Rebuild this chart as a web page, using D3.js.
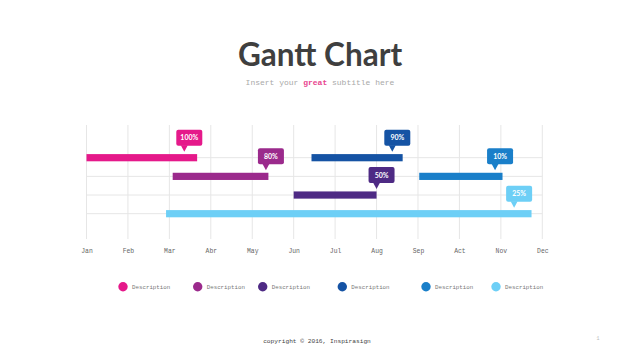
<!DOCTYPE html>
<html><head><meta charset="utf-8">
<script src="https://cdn.jsdelivr.net/npm/d3@7"></script>
<style>body{margin:0;background:#fff}svg{display:block}</style>
</head><body>
<svg id="c" width="640" height="360"></svg>
<script>
const months = ["Jan","Feb","Mar","Abr","May","Jun","Jul","Aug","Sep","Act","Nov","Dec"];
const taskNames = ["Description","Description","Description","Description","Description","Description"];
const taskStart = [0, 2.08, 5.0, 5.43, 8.03, 1.92];
const taskEnd = [2.67, 4.39, 7.0, 7.63, 10.04, 10.74];
const taskRow = [0, 1, 2, 0, 1, 3];
const taskProgress = ["100%","80%","50%","90%","10%","25%"];
const labelAt = [2.36, 4.33, 7.0, 7.38, 9.86, 10.32];
const colors = ["#e5198a","#9b2a8c","#4e2a84","#1553a4","#1a7fc9","#6dcff6"];
const rows = [0,1,2,3];

const svg = d3.select("#c");
const x = d3.scaleLinear().domain([0, 11]).range([86.5, 542.3]);
const y = d3.scalePoint().domain(rows).range([157.7, 213.7]);

// title
svg.append("text").attr("x",320).attr("y",66).attr("text-anchor","middle")
  .attr("font-family","Lato").attr("font-weight","bold").attr("font-size",31.5)
  .attr("fill","#3f3f3f").text("Gantt Chart");
const sub = svg.append("text").attr("x",320).attr("y",85).attr("text-anchor","middle")
  .attr("font-family","Liberation Mono").attr("font-size",8).attr("fill","#a8a8a8");
sub.append("tspan").text("Insert your ");
sub.append("tspan").attr("fill","#e8458f").attr("font-weight","bold").text("great");
sub.append("tspan").text(" subtitle here");

// grid
const g = svg.append("g");
g.selectAll("line.v").data(months).join("line").attr("class","v")
  .attr("x1",(d,i)=>x(i)).attr("x2",(d,i)=>x(i)).attr("y1",125).attr("y2",239)
  .attr("stroke","#e6e6e6").attr("stroke-width",1);
g.selectAll("line.h").data(rows).join("line").attr("class","h")
  .attr("x1",x(0)).attr("x2",x(11)).attr("y1",d=>y(d)).attr("y2",d=>y(d))
  .attr("stroke","#e6e6e6").attr("stroke-width",1);

// axis labels
const axis = d3.axisBottom(x).tickValues(d3.range(12)).tickFormat(i=>months[i]).tickSize(0).tickPadding(0);
const ax = svg.append("g").attr("transform","translate(0,248.5)").call(axis);
ax.select(".domain").remove();
ax.selectAll("text").attr("font-family","Liberation Mono").attr("font-size",6.4).attr("fill","#666");

// bars
const tasks = taskStart.map((s,i)=>({s, e:taskEnd[i], r:taskRow[i], p:taskProgress[i], l:labelAt[i], c:colors[i]}));
svg.selectAll("rect.bar").data(tasks).join("rect").attr("class","bar")
  .attr("x",d=>x(d.s)).attr("width",d=>x(d.e)-x(d.s))
  .attr("y",d=>y(d.r)-3.6).attr("height",7.2).attr("fill",d=>d.c);

// callouts
const co = svg.selectAll("g.co").data(tasks).join("g").attr("class","co")
  .attr("transform",d=>`translate(${x(d.l)},${y(d.r)})`);
co.append("rect").attr("x",-8).attr("y",-28).attr("width",26).attr("height",16).attr("rx",2)
  .attr("fill",d=>d.c);
co.append("path").attr("d","M-3.5,-12.5L3.5,-12.5L0,-6Z").attr("fill",d=>d.c);
co.append("text").attr("x",5).attr("y",-17.5).attr("text-anchor","middle")
  .attr("font-family","Lato").attr("font-weight","bold").attr("font-size",7)
  .attr("fill","#fff").text(d=>d.p);

// legend
const legX = [123, 197.7, 262.7, 342.3, 426, 496];
const lg = svg.selectAll("g.lg").data(taskNames).join("g").attr("class","lg")
  .attr("transform",(d,i)=>`translate(${legX[i]},286.7)`);
lg.append("circle").attr("r",4.7).attr("fill",(d,i)=>colors[i]);
lg.append("text").attr("x",9).attr("y",2).attr("font-family","Liberation Mono")
  .attr("font-size",5.8).attr("fill","#777").text(d=>d);

// footer
svg.append("text").attr("x",317).attr("y",343).attr("text-anchor","middle")
  .attr("font-family","Liberation Mono").attr("font-size",6.2).attr("fill","#444")
  .text("copyright © 2016, Inspirasign");
svg.append("text").attr("x",598).attr("y",340).attr("text-anchor","middle")
  .attr("font-family","Liberation Mono").attr("font-size",5).attr("fill","#bbb").text("1");
</script>
</body></html>
